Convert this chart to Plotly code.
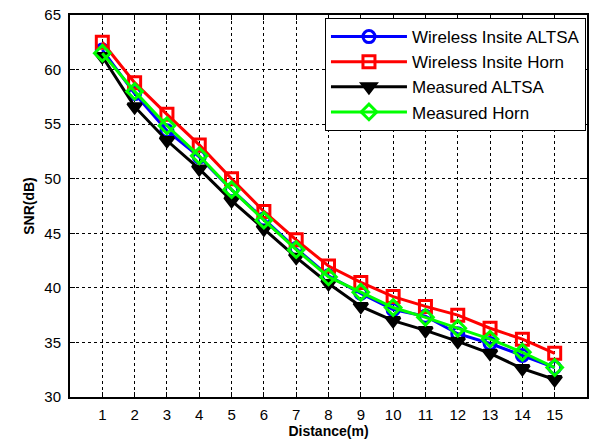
import plotly.graph_objects as go

distance = list(range(1, 16))
wi_altsa = [61.8, 57.8, 54.4, 52.0, 49.0, 46.3, 43.6, 41.1, 39.5, 38.0, 37.4, 35.8, 34.9, 33.8, 32.7]
wi_horn = [62.5, 58.8, 55.9, 53.1, 50.0, 47.0, 44.4, 42.0, 40.5, 39.2, 38.3, 37.5, 36.3, 35.3, 34.0]
meas_altsa = [61.2, 56.6, 53.5, 50.9, 48.0, 45.4, 42.8, 40.4, 38.3, 37.0, 36.1, 35.1, 34.0, 32.6, 31.6]
meas_horn = [61.5, 58.0, 54.85, 52.1, 49.0, 46.2, 43.5, 41.0, 39.6, 38.2, 37.3, 36.3, 35.3, 34.1, 32.7]

x_ticks = list(range(1, 16))
y_ticks = [30, 35, 40, 45, 50, 55, 60, 65]

fig = go.Figure()
series = [
    ("Wireless Insite ALTSA", wi_altsa, "#0000ff", "circle-open"),
    ("Wireless Insite Horn", wi_horn, "#ff0000", "square-open"),
    ("Measured ALTSA", meas_altsa, "#000000", "triangle-down"),
    ("Measured Horn", meas_horn, "#00ff00", "diamond-open"),
]
for name, vals, col, sym in series:
    fig.add_trace(go.Scatter(
        x=distance, y=vals, name=name, mode="lines+markers",
        line=dict(color=col, width=3),
        marker=dict(symbol=sym, size=12, color=col, line=dict(color=col, width=3)),
    ))

font_family = "Arial, Liberation Sans, sans-serif"
axis_common = dict(
    showgrid=True, gridcolor="black", griddash="dot", gridwidth=1,
    showline=True, linecolor="black", linewidth=2, mirror="ticks",
    ticks="inside", ticklen=5, tickcolor="black",
    tickfont=dict(family=font_family, size=15, color="black"),
    zeroline=False,
)
fig.update_xaxes(range=[0, 16], tickvals=x_ticks, ticklabelstandoff=3,
                 title=dict(text="<b>Distance(m)</b>", font=dict(family=font_family, size=14, color="black"), standoff=0),
                 **axis_common)
fig.update_yaxes(range=[30, 65], tickvals=y_ticks, ticklabelstandoff=4,
                 title=dict(text="<b>SNR(dB)</b>", font=dict(family=font_family, size=14, color="black"), standoff=6),
                 **axis_common)

fig.update_layout(
    width=592, height=440,
    margin=dict(l=70, r=5, t=15, b=43, autoexpand=False),
    paper_bgcolor="white", plot_bgcolor="white",
    showlegend=True,
    legend=dict(
        x=0.998, y=0.992, xanchor="right", yanchor="top",
        bgcolor="white", bordercolor="black", borderwidth=1,
        font=dict(family=font_family, size=17, color="black"),
        tracegroupgap=0, itemwidth=76,
    ),
)

fig.write_html("out.html", config={"displayModeBar": False},
               post_script="document.body.style.margin='0px';document.body.style.padding='0px';")
